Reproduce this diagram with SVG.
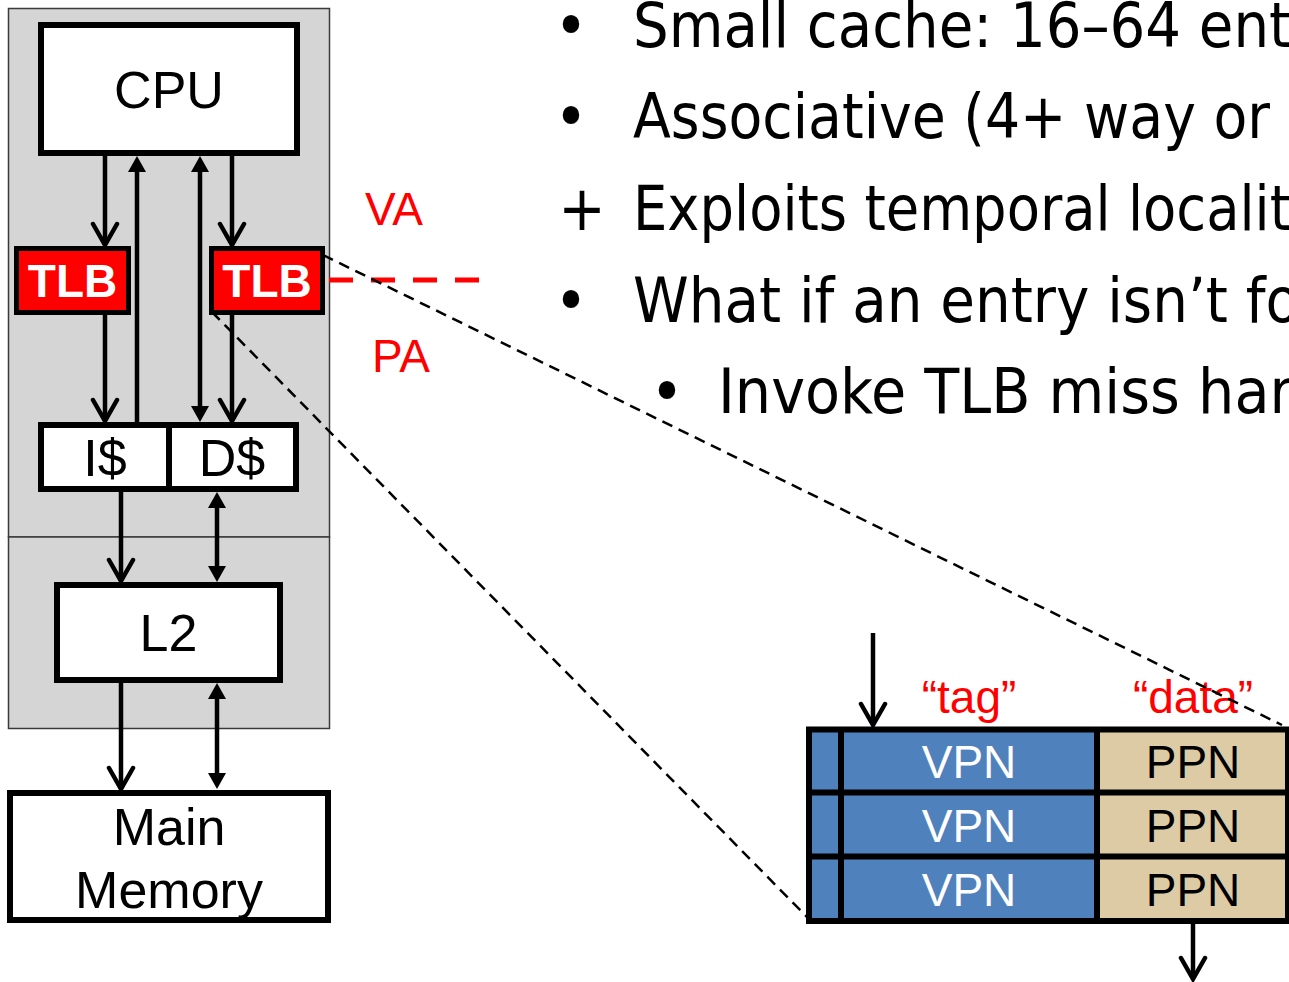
<svg xmlns="http://www.w3.org/2000/svg" width="1289" height="982" viewBox="0 0 1289 982">
<style>
.box{fill:#fff;stroke:#000;stroke-width:6}
.tlb{fill:#ff0000;stroke:#000;stroke-width:5}
.lbl{font-family:"Liberation Sans",Arial,sans-serif;font-size:52px;fill:#000;text-anchor:middle}
.tlbt{font-family:"Liberation Sans",Arial,sans-serif;font-size:46px;font-weight:bold;fill:#fff;text-anchor:middle}
.red{font-family:"Liberation Sans",Arial,sans-serif;font-size:46px;fill:#ff0000}
.cell{font-family:"Liberation Sans",Arial,sans-serif;font-size:46px;text-anchor:middle}
.bul{font-family:"DejaVu Sans Condensed","DejaVu Sans",sans-serif;font-stretch:condensed;font-size:63px;fill:#000}
.arr{stroke:#000;stroke-width:4.5;fill:none}
.dash{stroke:#000;stroke-width:2.5;stroke-dasharray:11 7;fill:none}
</style>
<defs>
<marker id="chev" markerUnits="userSpaceOnUse" viewBox="-26 -16 30 32" markerWidth="30" markerHeight="32" refX="0" refY="0" orient="auto-start-reverse">
<path d="M-21,-12 L0,0 L-21,12" fill="none" stroke="#000" stroke-width="4.5" stroke-linecap="round" stroke-linejoin="miter"/>
</marker>
<marker id="tri" markerUnits="userSpaceOnUse" viewBox="-17 -10 18 20" markerWidth="18" markerHeight="20" refX="-10" refY="0" orient="auto-start-reverse">
<path d="M0,0 L-16,-9 L-16,9 Z" fill="#000"/>
</marker>
</defs>

<g id="panel">
<rect x="8.5" y="8.5" width="321" height="528.5" fill="#d5d5d5" stroke="#3a3a3a" stroke-width="1.5"/>
<rect x="8.5" y="537" width="321" height="191.5" fill="#d5d5d5" stroke="#3a3a3a" stroke-width="1.5"/>
</g>

<g id="cpu">
<rect class="box" x="41" y="25" width="256" height="128"/>
<text class="lbl" x="169" y="108">CPU</text>
</g>

<g id="itlb">
<rect class="tlb" x="16.5" y="248.5" width="112" height="64"/>
<text class="tlbt" x="72.5" y="297">TLB</text>
</g>

<g id="dtlb">
<rect class="tlb" x="211.5" y="248.5" width="111" height="64"/>
<text class="tlbt" x="267" y="297">TLB</text>
</g>

<g id="icache">
<rect class="box" x="41" y="425" width="128" height="64"/>
<text class="lbl" x="105" y="476">I$</text>
</g>

<g id="dcache">
<rect class="box" x="169" y="425" width="127" height="64"/>
<text class="lbl" x="232" y="476">D$</text>
</g>

<g id="l2">
<rect class="box" x="57" y="585" width="223" height="95"/>
<text class="lbl" x="168.5" y="651">L2</text>
</g>

<g id="mainmem">
<rect class="box" x="10" y="793" width="318" height="127"/>
<text class="lbl" x="169" y="845">Main</text>
<text class="lbl" x="169" y="908">Memory</text>
</g>

<g id="va-pa">
<text class="red" x="365" y="225">VA</text>
<text class="red" x="372" y="372">PA</text>
<line x1="329" y1="280" x2="480" y2="280" stroke="#ff0000" stroke-width="5" stroke-dasharray="24 18"/>
</g>

<g id="tlb-table">
<rect x="809" y="729.5" width="288" height="191.5" fill="#4f81bd"/>
<rect x="1097" y="729.5" width="191" height="191.5" fill="#ddcba5"/>
<g fill="none" stroke="#000" stroke-width="6">
<rect x="809" y="729.5" width="479" height="191.5"/>
<line x1="809" y1="792.5" x2="1288" y2="792.5"/>
<line x1="809" y1="856.5" x2="1288" y2="856.5"/>
<line x1="841" y1="729.5" x2="841" y2="921"/>
<line x1="1097" y1="729.5" x2="1097" y2="921"/>
</g>
<text class="cell" x="969" y="778" fill="#fff">VPN</text>
<text class="cell" x="969" y="842" fill="#fff">VPN</text>
<text class="cell" x="969" y="906" fill="#fff">VPN</text>
<text class="cell" x="1193" y="778" fill="#000">PPN</text>
<text class="cell" x="1193" y="842" fill="#000">PPN</text>
<text class="cell" x="1193" y="906" fill="#000">PPN</text>
<text class="red" x="969" y="713" text-anchor="middle">“tag”</text>
<text class="red" x="1193" y="713" text-anchor="middle">“data”</text>
</g>

<g id="bullets">
<text class="bul" x="571" y="47" text-anchor="middle">•</text>
<text class="bul" x="633" y="47" textLength="658" lengthAdjust="spacingAndGlyphs">Small cache: 16–64 ent</text>
<text class="bul" x="571" y="138" text-anchor="middle">•</text>
<text class="bul" x="633" y="138" textLength="637" lengthAdjust="spacingAndGlyphs">Associative (4+ way or</text>
<text class="bul" x="582" y="230" text-anchor="middle">+</text>
<text class="bul" x="633" y="230" textLength="658" lengthAdjust="spacingAndGlyphs">Exploits temporal localit</text>
<text class="bul" x="571" y="322" text-anchor="middle">•</text>
<text class="bul" x="633" y="322" textLength="667" lengthAdjust="spacingAndGlyphs">What if an entry isn’t fo</text>
<text class="bul" x="667" y="413" text-anchor="middle">•</text>
<text class="bul" x="718" y="413" textLength="575" lengthAdjust="spacingAndGlyphs">Invoke TLB miss har</text>
</g>

<g id="connectors">
<line class="arr" x1="105" y1="155" x2="105" y2="245" marker-end="url(#chev)"/>
<line class="arr" x1="232" y1="155" x2="232" y2="245" marker-end="url(#chev)"/>
<line class="arr" x1="137" y1="424" x2="137" y2="166" marker-end="url(#tri)"/>
<line class="arr" x1="200" y1="166" x2="200" y2="412" marker-start="url(#tri)" marker-end="url(#tri)"/>
<line class="arr" x1="105" y1="314" x2="105" y2="421" marker-end="url(#chev)"/>
<line class="arr" x1="232" y1="314" x2="232" y2="421" marker-end="url(#chev)"/>
<line class="arr" x1="121" y1="491" x2="121" y2="581" marker-end="url(#chev)"/>
<line class="arr" x1="217" y1="502" x2="217" y2="572" marker-start="url(#tri)" marker-end="url(#tri)"/>
<line class="arr" x1="121" y1="682" x2="121" y2="789" marker-end="url(#chev)"/>
<line class="arr" x1="217" y1="693" x2="217" y2="779" marker-start="url(#tri)" marker-end="url(#tri)"/>
<line class="arr" x1="873" y1="633" x2="873" y2="725" marker-end="url(#chev)"/>
<line class="arr" x1="1193" y1="924" x2="1193" y2="979" marker-end="url(#chev)"/>
<line class="dash" x1="323" y1="255" x2="1282" y2="725"/>
<line class="dash" x1="212" y1="312" x2="807" y2="917"/>
</g>
</svg>
